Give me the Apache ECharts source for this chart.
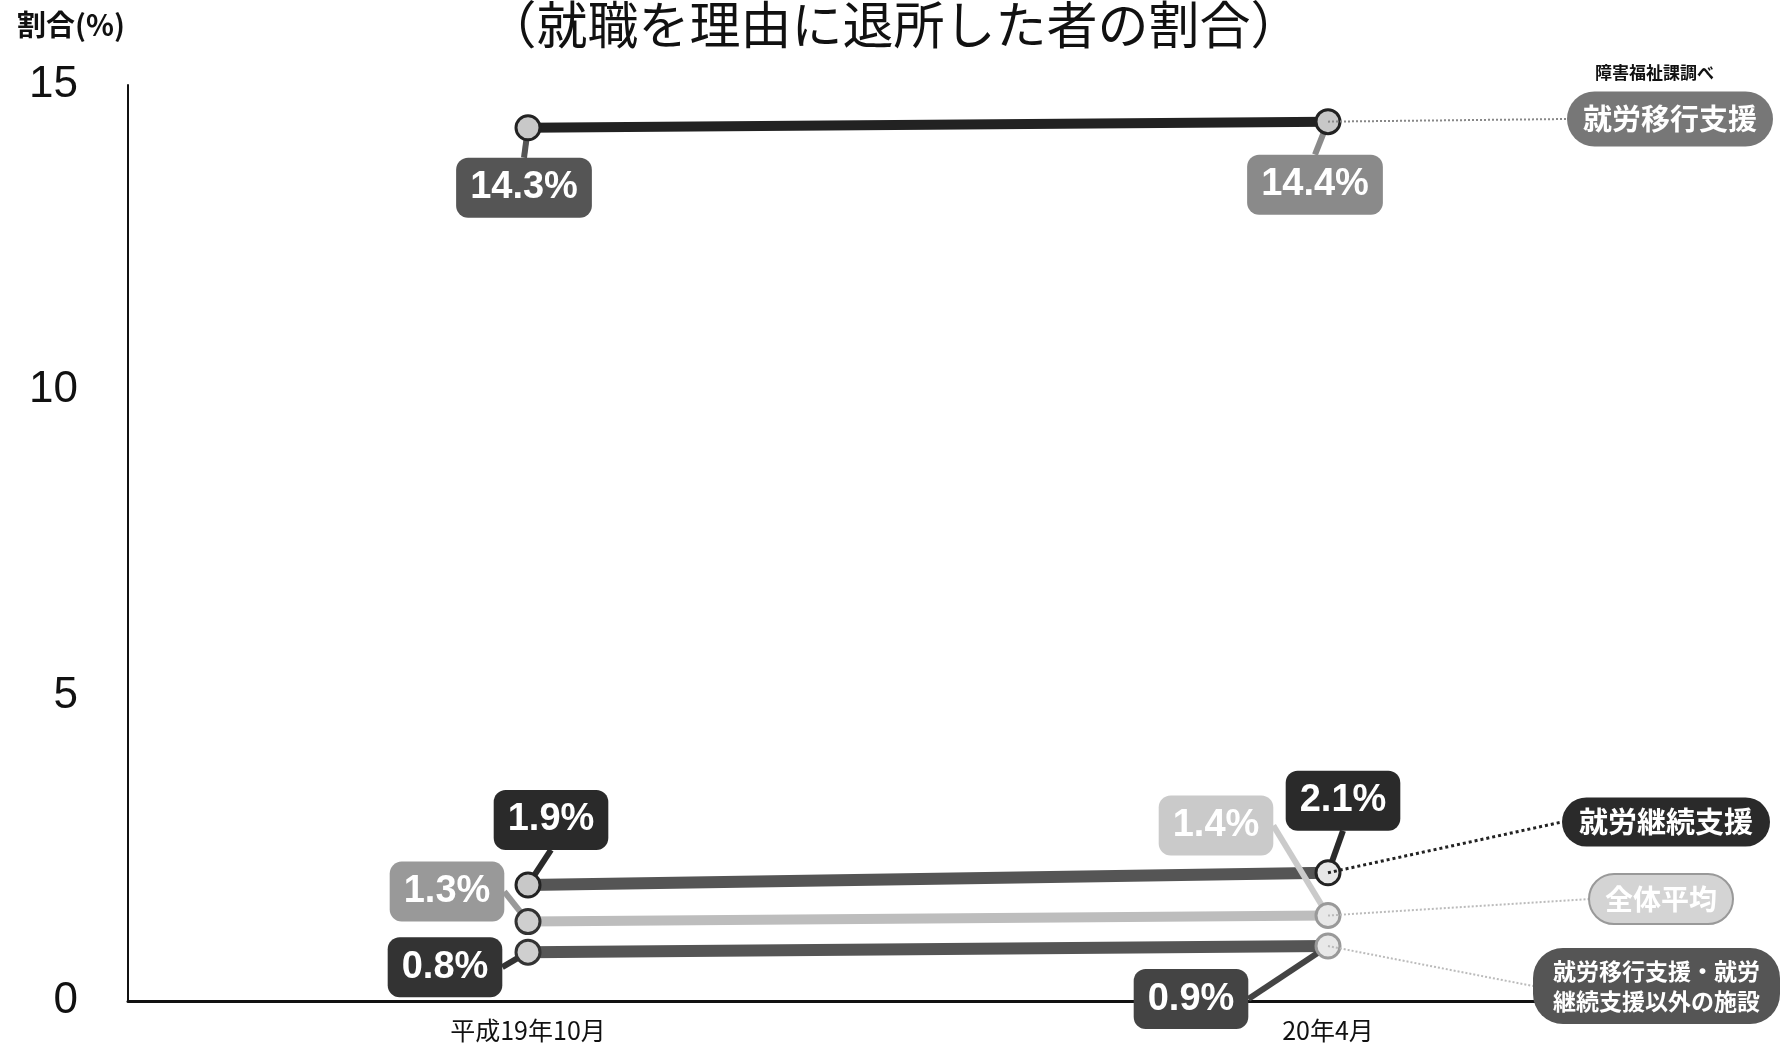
<!DOCTYPE html>
<html><head><meta charset="utf-8">
<script src="https://cdn.jsdelivr.net/npm/echarts@6/dist/echarts.min.js"></script>
<style>html,body{margin:0;padding:0;background:#fff}#c{width:1787px;height:1054px}</style>
</head><body><div id="c"></div>
<script>
// ---- data ----
const categories = ['平成19年10月', '20年4月'];
const seriesNames = ['就労移行支援', '就労継続支援', '全体平均', '就労移行支援・就労継続支援以外の施設'];
const ikouValues = [14.3, 14.4];
const keizokuValues = [1.9, 2.1];
const averageValues = [1.3, 1.4];
const otherValues = [0.8, 0.9];
const yMin = 0, yMax = 15, yInterval = 5;
const titleText = '（就職を理由に退所した者の割合）';
const yName = '割合(%)';
const sourceText = '障害福祉課調べ';
const pillTexts = ['就労移行支援', '就労継続支援', '全体平均', '就労移行支援・就労\n継続支援以外の施設'];

// ---- styles / layout ----
const NUM = '"Liberation Sans Narrow","Arial Narrow","Liberation Sans",sans-serif';
const JP = '"Noto Sans CJK JP",sans-serif';
const styles = [
  { line: '#222', width: 10, sym: ['#c8c8c8', '#c8c8c8'], symB: ['#222', '#222'],
    box: ['#555', '#8a8a8a'], off: [[-4, 60], [-13, 63]],
    pill: '#777', pillPad: [12, 16], pillFont: 29, pillLH: 31, end: [1567, 119], conn: '#888', connW: 2 },
  { line: '#555', width: 12, sym: ['#c8c8c8', '#e6e6e6'], symB: ['#222', '#222'],
    box: ['#2a2a2a', '#2a2a2a'], off: [[23, -65], [15, -72]],
    pill: '#2a2a2a', pillPad: [9, 17], pillFont: 29, pillLH: 31, end: [1562, 822], conn: '#222', connW: 3 },
  { line: '#bdbdbd', width: 10, sym: ['#cfcfcf', '#e8e8e8'], symB: ['#333', '#999'],
    box: ['#999', '#cacaca'], off: [[-81, -30], [-112, -90]],
    pill: '#d4d4d4', pillPad: [9, 15], pillFont: 28, pillLH: 30, end: [1590, 899], conn: '#bbb', connW: 2 },
  { line: '#555', width: 12, sym: ['#cfcfcf', '#e8e8e8'], symB: ['#333', '#999'],
    box: ['#333', '#444'], off: [[-83, 15], [-137, 53]],
    pill: '#555', pillPad: [8, 20], pillFont: 23, pillLH: 30, end: [1533, 986], conn: '#bbb', connW: 2 }
];
const valueArrays = [ikouValues, keizokuValues, averageValues, otherValues];

const chart = echarts.init(document.getElementById('c'));
const series = valueArrays.map((vals, i) => {
  const s = styles[i];
  return {
    name: seriesNames[i],
    type: 'line',
    data: vals.map((v, j) => ({
      value: v,
      itemStyle: { color: s.sym[j], borderColor: s.symB[j], borderWidth: 3 },
      label: { backgroundColor: s.box[j] },
      labelLine: { lineStyle: { color: s.box[j] } }
    })),
    symbol: 'circle',
    symbolSize: 24,
    lineStyle: { color: s.line, width: s.width },
    itemStyle: { color: s.sym[0] },
    z: 3,
    label: {
      show: true,
      position: 'inside',
      formatter: p => p.value.toFixed(1) + '%',
      fontFamily: NUM,
      fontWeight: 'bold',
      fontSize: 38,
      lineHeight: 42,
      color: '#fff',
      padding: [9, 14],
      borderRadius: 12
    },
    labelLine: { show: true, lineStyle: { width: 6 } },
    labelLayout: p => ({ dx: s.off[p.dataIndex][0], dy: s.off[p.dataIndex][1] }),
    markLine: {
      silent: true,
      symbol: ['none', 'none'],
      animation: false,
      lineStyle: { type: 'dotted', color: s.conn, width: s.connW },
      label: {
        show: true,
        position: 'end',
        distance: 0,
        formatter: () => pillTexts[i],
        fontFamily: JP,
        fontWeight: 'bold',
        fontSize: s.pillFont,
        lineHeight: s.pillLH,
        color: '#fff',
        backgroundColor: s.pill,
        borderColor: i === 2 ? '#999' : 'transparent',
        borderWidth: i === 2 ? 2 : 0,
        padding: s.pillPad,
        borderRadius: 30
      },
      emphasis: { disabled: true },
      data: [[{ coord: [categories[1], vals[1]] }, { x: s.end[0], y: s.end[1] }]]
    }
  };
});

chart.setOption({
  animation: false,
  backgroundColor: '#fff',
  title: {
    text: titleText, left: 'center', top: -6,
    textStyle: { fontFamily: JP, fontWeight: 'normal', fontSize: 51, color: '#111' }
  },
  grid: { left: 128, right: 59, top: 85, bottom: 53 },
  xAxis: {
    type: 'category',
    data: categories,
    axisLine: { lineStyle: { color: '#111', width: 3 } },
    axisTick: { show: false },
    axisLabel: { fontFamily: JP, fontSize: 25, color: '#111', margin: 17 }
  },
  yAxis: {
    type: 'value', min: yMin, max: yMax, interval: yInterval,
    axisLine: { show: true, lineStyle: { color: '#111', width: 2 } },
    axisTick: { show: false },
    splitLine: { show: false },
    axisLabel: { fontFamily: NUM, fontSize: 44, color: '#111', margin: 50 }
  },
  graphic: [
    { type: 'text', left: 17, top: 10, style: { text: yName, font: 'bold 29px "Noto Sans CJK JP", sans-serif', fill: '#111' } },
    { type: 'text', left: 1595, top: 64, style: { text: sourceText, font: 'bold 17px "Noto Sans CJK JP", sans-serif', fill: '#111' } }
  ],
  series: series
});
</script></body></html>
